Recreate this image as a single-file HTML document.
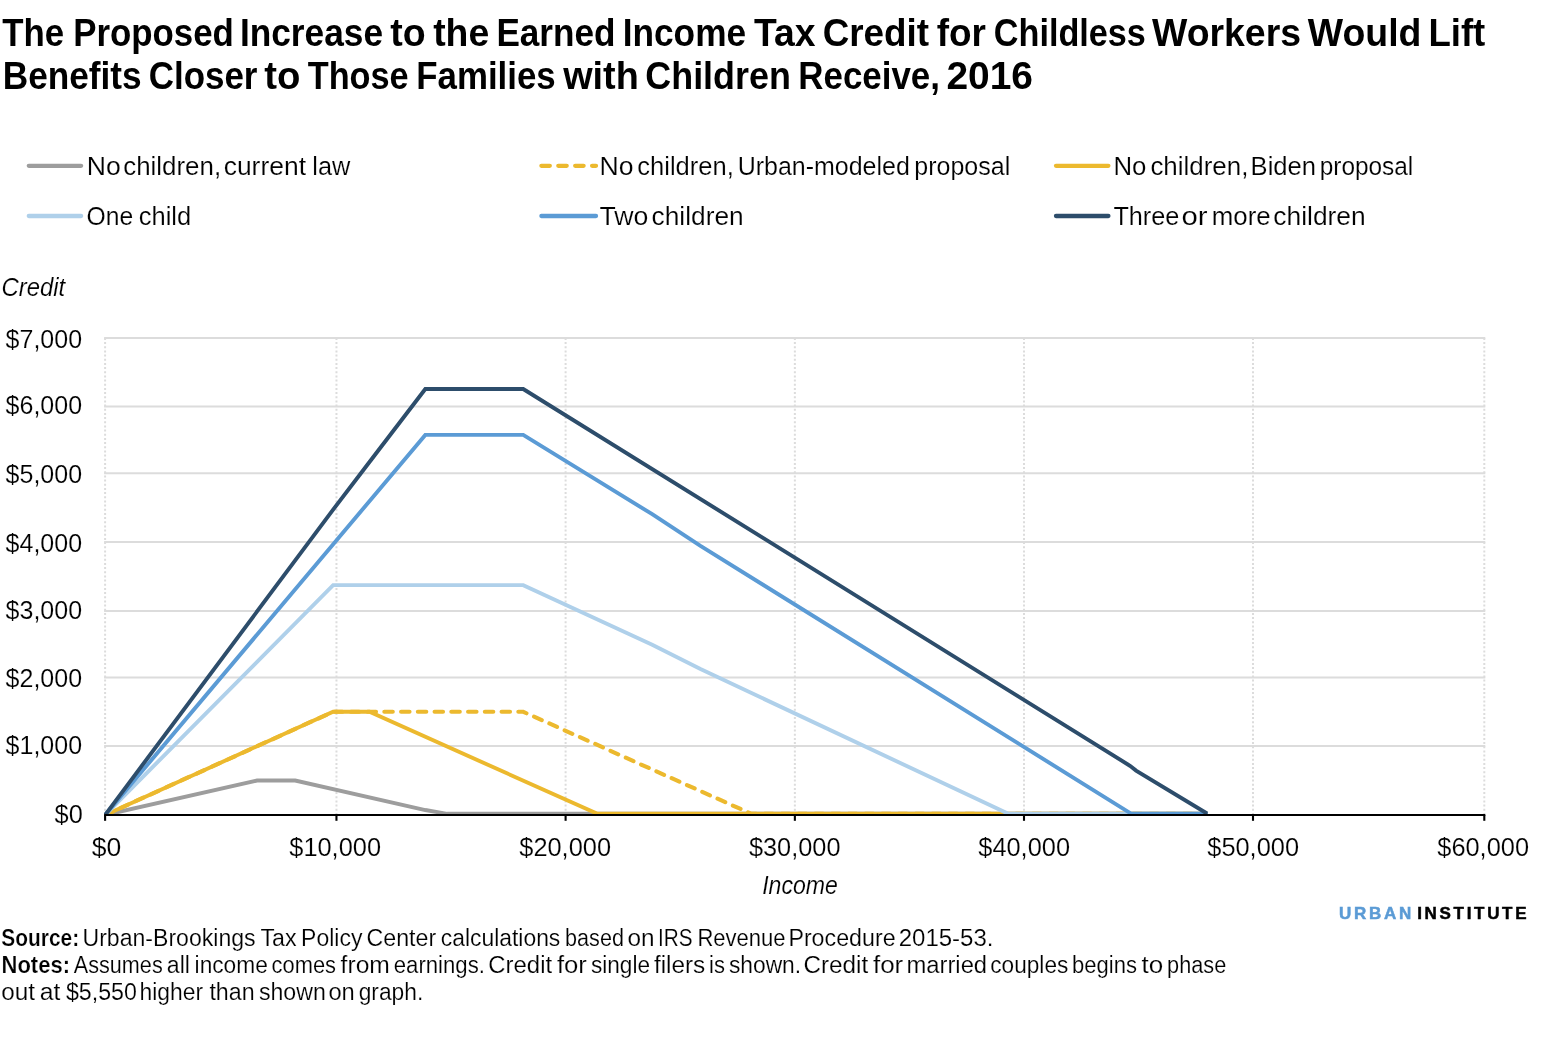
<!DOCTYPE html>
<html lang="en"><head><meta charset="utf-8">
<title>The Proposed Increase to the Earned Income Tax Credit for Childless Workers</title>
<style>
html,body{margin:0;padding:0;background:#fff;}
body{width:1541px;height:1041px;overflow:hidden;}
svg{display:block;position:absolute;left:0;top:0;}
text{font-family:"Liberation Sans", sans-serif;fill:#000;}
.t{stroke:#fff;stroke-width:0.16px;}
.tb{stroke:#fff;stroke-width:0.22px;}
.b{font-weight:bold;}
.i{font-style:italic;}
</style></head><body>
<svg width="1541" height="1041" viewBox="0 0 1541 1041">
<rect x="0" y="0" width="1541" height="1041" fill="#ffffff"/>
<text y="45.7" font-size="38.0" class="b"><tspan x="2.2" textLength="61.9" lengthAdjust="spacingAndGlyphs">The</tspan> <tspan x="73.2" textLength="160.7" lengthAdjust="spacingAndGlyphs">Proposed</tspan> <tspan x="239.9" textLength="143.1" lengthAdjust="spacingAndGlyphs">Increase</tspan> <tspan x="390.3" textLength="35.4" lengthAdjust="spacingAndGlyphs">to</tspan> <tspan x="433.2" textLength="56.0" lengthAdjust="spacingAndGlyphs">the</tspan> <tspan x="496.4" textLength="119.1" lengthAdjust="spacingAndGlyphs">Earned</tspan> <tspan x="622.7" textLength="123.4" lengthAdjust="spacingAndGlyphs">Income</tspan> <tspan x="753.9" textLength="61.5" lengthAdjust="spacingAndGlyphs">Tax</tspan> <tspan x="822.7" textLength="106.4" lengthAdjust="spacingAndGlyphs">Credit</tspan> <tspan x="936.7" textLength="49.2" lengthAdjust="spacingAndGlyphs">for</tspan> <tspan x="993.8" textLength="152.1" lengthAdjust="spacingAndGlyphs">Childless</tspan> <tspan x="1152.0" textLength="149.0" lengthAdjust="spacingAndGlyphs">Workers</tspan> <tspan x="1307.8" textLength="113.6" lengthAdjust="spacingAndGlyphs">Would</tspan> <tspan x="1428.4" textLength="56.9" lengthAdjust="spacingAndGlyphs">Lift</tspan></text>
<text y="88.6" font-size="38.0" class="b"><tspan x="2.7" textLength="139.0" lengthAdjust="spacingAndGlyphs">Benefits</tspan> <tspan x="148.7" textLength="108.8" lengthAdjust="spacingAndGlyphs">Closer</tspan> <tspan x="264.2" textLength="36.1" lengthAdjust="spacingAndGlyphs">to</tspan> <tspan x="307.7" textLength="101.0" lengthAdjust="spacingAndGlyphs">Those</tspan> <tspan x="416.3" textLength="139.4" lengthAdjust="spacingAndGlyphs">Families</tspan> <tspan x="563.2" textLength="75.6" lengthAdjust="spacingAndGlyphs">with</tspan> <tspan x="645.3" textLength="145.6" lengthAdjust="spacingAndGlyphs">Children</tspan> <tspan x="798.3" textLength="141.6" lengthAdjust="spacingAndGlyphs">Receive,</tspan> <tspan x="946.4" textLength="86.6" lengthAdjust="spacingAndGlyphs">2016</tspan></text>
<line x1="28.8" y1="165.8" x2="81.1" y2="165.8" stroke="#9d9d9d" stroke-width="4.3" stroke-linecap="round"/>
<line x1="28.8" y1="216.0" x2="81.1" y2="216.0" stroke="#afd0ea" stroke-width="4.3" stroke-linecap="round"/>
<line x1="541.4" y1="165.8" x2="596.0" y2="165.8" stroke="#ecb92e" stroke-width="4.3" stroke-linecap="round" stroke-dasharray="8.4 8.5"/>
<line x1="541.4" y1="216.0" x2="596.0" y2="216.0" stroke="#5b9bd5" stroke-width="4.3" stroke-linecap="round"/>
<line x1="1056.0" y1="165.8" x2="1108.4" y2="165.8" stroke="#ecb92e" stroke-width="4.3" stroke-linecap="round"/>
<line x1="1056.0" y1="216.0" x2="1108.4" y2="216.0" stroke="#2d4d6b" stroke-width="4.3" stroke-linecap="round"/>
<text y="174.8" font-size="25.5" class="t"><tspan x="86.7" textLength="34.0" lengthAdjust="spacingAndGlyphs">No</tspan> <tspan x="123.3" textLength="97.8" lengthAdjust="spacingAndGlyphs">children,</tspan> <tspan x="223.7" textLength="82.3" lengthAdjust="spacingAndGlyphs">current</tspan> <tspan x="312.3" textLength="38.0" lengthAdjust="spacingAndGlyphs">law</tspan></text>
<text y="224.6" font-size="25.5" class="t"><tspan x="86.6" textLength="46.6" lengthAdjust="spacingAndGlyphs">One</tspan> <tspan x="138.8" textLength="52.4" lengthAdjust="spacingAndGlyphs">child</tspan></text>
<text y="174.8" font-size="25.5" class="t"><tspan x="599.5" textLength="34.0" lengthAdjust="spacingAndGlyphs">No</tspan> <tspan x="637.3" textLength="96.5" lengthAdjust="spacingAndGlyphs">children,</tspan> <tspan x="737.7" textLength="172.1" lengthAdjust="spacingAndGlyphs">Urban-modeled</tspan> <tspan x="914.3" textLength="95.9" lengthAdjust="spacingAndGlyphs">proposal</tspan></text>
<text y="224.6" font-size="25.5" class="t"><tspan x="599.4" textLength="48.9" lengthAdjust="spacingAndGlyphs">Two</tspan> <tspan x="651.6" textLength="92.1" lengthAdjust="spacingAndGlyphs">children</tspan></text>
<text y="174.8" font-size="25.5" class="t"><tspan x="1113.4" textLength="33.0" lengthAdjust="spacingAndGlyphs">No</tspan> <tspan x="1150.4" textLength="98.0" lengthAdjust="spacingAndGlyphs">children,</tspan> <tspan x="1250.6" textLength="65.4" lengthAdjust="spacingAndGlyphs">Biden</tspan> <tspan x="1319.7" textLength="93.6" lengthAdjust="spacingAndGlyphs">proposal</tspan></text>
<text y="224.6" font-size="25.5" class="t"><tspan x="1113.4" textLength="66.0" lengthAdjust="spacingAndGlyphs">Three</tspan> <tspan x="1181.5" textLength="26.1" lengthAdjust="spacingAndGlyphs">or</tspan> <tspan x="1211.8" textLength="58.9" lengthAdjust="spacingAndGlyphs">more</tspan> <tspan x="1273.3" textLength="92.4" lengthAdjust="spacingAndGlyphs">children</tspan></text>
<text x="1.5" y="296.0" font-size="25.5" textLength="63.7" lengthAdjust="spacingAndGlyphs" class="i t">Credit</text>
<text x="762.2" y="893.6" font-size="25.5" textLength="75.7" lengthAdjust="spacingAndGlyphs" class="i t">Income</text>
<line x1="104.1" y1="746.10" x2="1485.3" y2="746.10" stroke="#dcdcdc" stroke-width="2"/>
<line x1="104.1" y1="677.40" x2="1485.3" y2="677.40" stroke="#dcdcdc" stroke-width="2"/>
<line x1="104.1" y1="610.90" x2="1485.3" y2="610.90" stroke="#dcdcdc" stroke-width="2"/>
<line x1="104.1" y1="542.00" x2="1485.3" y2="542.00" stroke="#dcdcdc" stroke-width="2"/>
<line x1="104.1" y1="473.20" x2="1485.3" y2="473.20" stroke="#dcdcdc" stroke-width="2"/>
<line x1="104.1" y1="406.60" x2="1485.3" y2="406.60" stroke="#dcdcdc" stroke-width="2"/>
<line x1="104.1" y1="338.00" x2="1485.3" y2="338.00" stroke="#dcdcdc" stroke-width="2"/>
<line x1="105.10" y1="337.90" x2="105.10" y2="815.05" stroke="#dcdcdc" stroke-width="2" stroke-dasharray="2 2.1665"/>
<line x1="336.45" y1="337.90" x2="336.45" y2="815.05" stroke="#dcdcdc" stroke-width="2" stroke-dasharray="2 2.1665"/>
<line x1="565.60" y1="337.90" x2="565.60" y2="815.05" stroke="#dcdcdc" stroke-width="2" stroke-dasharray="2 2.1665"/>
<line x1="794.86" y1="337.90" x2="794.86" y2="815.05" stroke="#dcdcdc" stroke-width="2" stroke-dasharray="2 2.1665"/>
<line x1="1024.00" y1="337.90" x2="1024.00" y2="815.05" stroke="#dcdcdc" stroke-width="2" stroke-dasharray="2 2.1665"/>
<line x1="1253.00" y1="337.90" x2="1253.00" y2="815.05" stroke="#dcdcdc" stroke-width="2" stroke-dasharray="2 2.1665"/>
<line x1="1484.30" y1="337.90" x2="1484.30" y2="815.05" stroke="#dcdcdc" stroke-width="2" stroke-dasharray="2 2.1665"/>
<defs><clipPath id="plot"><rect x="104.0" y="300" width="1103.7" height="514.05"/></clipPath></defs>
<g clip-path="url(#plot)">
<polyline points="105.10,815.00 257.04,780.52 295.20,780.52 425.31,810.03 447.15,813.80 1208.48,813.80" fill="none" stroke="#9d9d9d" stroke-width="3.9" stroke-linejoin="miter"/>
<polyline points="105.10,815.00 333.13,711.80 523.23,711.80 751.31,813.80 1208.48,813.80" fill="none" stroke="#ecb92e" stroke-width="4.1" stroke-linejoin="miter" stroke-dasharray="8.45 8.3" stroke-linecap="round"/>
<polyline points="105.10,815.00 333.13,711.80 369.45,711.80 597.48,813.80 1208.48,813.80" fill="none" stroke="#ecb92e" stroke-width="3.9" stroke-linejoin="miter"/>
<polyline points="105.10,815.00 333.13,585.15 523.23,585.15 652.19,644.70 700.46,669.11 1008.40,813.80 1208.48,813.80" fill="none" stroke="#afd0ea" stroke-width="3.9" stroke-linejoin="miter"/>
<polyline points="105.10,815.00 425.31,434.90 523.23,434.90 652.19,514.20 700.46,545.90 1131.42,813.80 1208.48,813.80" fill="none" stroke="#5b9bd5" stroke-width="3.9" stroke-linejoin="miter"/>
<polyline points="105.10,815.00 333.13,509.60 370.83,460.20 425.31,389.00 523.23,389.00 1130.32,765.98 1136.07,770.56 1207.44,813.80" fill="none" stroke="#2d4d6b" stroke-width="3.9" stroke-linejoin="miter"/>
</g>
<line x1="104.1" y1="815.05" x2="1485.3" y2="815.05" stroke="#000" stroke-width="2.05"/>
<line x1="105.10" y1="815.0" x2="105.10" y2="820.8" stroke="#000" stroke-width="2.1"/>
<line x1="336.45" y1="815.0" x2="336.45" y2="820.8" stroke="#000" stroke-width="2.1"/>
<line x1="565.60" y1="815.0" x2="565.60" y2="820.8" stroke="#000" stroke-width="2.1"/>
<line x1="794.86" y1="815.0" x2="794.86" y2="820.8" stroke="#000" stroke-width="2.1"/>
<line x1="1024.00" y1="815.0" x2="1024.00" y2="820.8" stroke="#000" stroke-width="2.1"/>
<line x1="1253.00" y1="815.0" x2="1253.00" y2="820.8" stroke="#000" stroke-width="2.1"/>
<line x1="1484.30" y1="815.0" x2="1484.30" y2="820.8" stroke="#000" stroke-width="2.1"/>
<text x="54.6" y="822.7" font-size="25.5" textLength="28.2" lengthAdjust="spacingAndGlyphs" class="t">$0</text>
<text x="5.6" y="753.7" font-size="25.5" textLength="76.5" lengthAdjust="spacingAndGlyphs" class="t">$1,000</text>
<text x="5.6" y="686.7" font-size="25.5" textLength="76.5" lengthAdjust="spacingAndGlyphs" class="t">$2,000</text>
<text x="5.6" y="618.7" font-size="25.5" textLength="76.5" lengthAdjust="spacingAndGlyphs" class="t">$3,000</text>
<text x="5.6" y="551.7" font-size="25.5" textLength="76.5" lengthAdjust="spacingAndGlyphs" class="t">$4,000</text>
<text x="5.6" y="482.7" font-size="25.5" textLength="76.5" lengthAdjust="spacingAndGlyphs" class="t">$5,000</text>
<text x="5.6" y="413.7" font-size="25.5" textLength="76.5" lengthAdjust="spacingAndGlyphs" class="t">$6,000</text>
<text x="5.6" y="347.7" font-size="25.5" textLength="76.5" lengthAdjust="spacingAndGlyphs" class="t">$7,000</text>
<text x="91.7" y="855.8" font-size="25.5" textLength="29.5" lengthAdjust="spacingAndGlyphs" class="t">$0</text>
<text x="289.3" y="855.8" font-size="25.5" textLength="91.7" lengthAdjust="spacingAndGlyphs" class="t">$10,000</text>
<text x="519.3" y="855.8" font-size="25.5" textLength="91.7" lengthAdjust="spacingAndGlyphs" class="t">$20,000</text>
<text x="748.9" y="855.8" font-size="25.5" textLength="91.6" lengthAdjust="spacingAndGlyphs" class="t">$30,000</text>
<text x="978.3" y="855.8" font-size="25.5" textLength="91.7" lengthAdjust="spacingAndGlyphs" class="t">$40,000</text>
<text x="1207.3" y="855.8" font-size="25.5" textLength="91.7" lengthAdjust="spacingAndGlyphs" class="t">$50,000</text>
<text x="1437.3" y="855.8" font-size="25.5" textLength="91.7" lengthAdjust="spacingAndGlyphs" class="t">$60,000</text>
<text x="1339.0" y="919.0" font-size="17.0" textLength="72.2" lengthAdjust="spacing" class="b" style="fill:#5b9bd5;stroke:#5b9bd5;stroke-width:0.5px">URBAN</text>
<text x="1417.2" y="919.0" font-size="17.0" textLength="109.3" lengthAdjust="spacing" class="b" style="fill:#000;stroke:#000;stroke-width:0.5px">INSTITUTE</text>
<text x="1.3" y="945.8" font-size="23.0" textLength="77.8" lengthAdjust="spacingAndGlyphs" class="b tb">Source:</text>
<text y="945.8" font-size="23.0" class="t"><tspan x="82.5" textLength="173.1" lengthAdjust="spacingAndGlyphs">Urban-Brookings</tspan> <tspan x="260.5" textLength="36.1" lengthAdjust="spacingAndGlyphs">Tax</tspan> <tspan x="301.1" textLength="61.3" lengthAdjust="spacingAndGlyphs">Policy</tspan> <tspan x="366.5" textLength="69.7" lengthAdjust="spacingAndGlyphs">Center</tspan> <tspan x="440.8" textLength="119.5" lengthAdjust="spacingAndGlyphs">calculations</tspan> <tspan x="565.1" textLength="58.8" lengthAdjust="spacingAndGlyphs">based</tspan> <tspan x="627.4" textLength="27.1" lengthAdjust="spacingAndGlyphs">on</tspan> <tspan x="658.0" textLength="34.6" lengthAdjust="spacingAndGlyphs">IRS</tspan> <tspan x="697.4" textLength="88.0" lengthAdjust="spacingAndGlyphs">Revenue</tspan> <tspan x="788.4" textLength="107.2" lengthAdjust="spacingAndGlyphs">Procedure</tspan> <tspan x="898.7" textLength="94.8" lengthAdjust="spacingAndGlyphs">2015-53.</tspan></text>
<text x="1.5" y="973.0" font-size="23.0" textLength="68.5" lengthAdjust="spacingAndGlyphs" class="b tb">Notes:</text>
<text y="973.0" font-size="23.0" class="t"><tspan x="73.8" textLength="88.9" lengthAdjust="spacingAndGlyphs">Assumes</tspan> <tspan x="166.8" textLength="23.1" lengthAdjust="spacingAndGlyphs">all</tspan> <tspan x="194.6" textLength="73.2" lengthAdjust="spacingAndGlyphs">income</tspan> <tspan x="271.6" textLength="64.4" lengthAdjust="spacingAndGlyphs">comes</tspan> <tspan x="340.6" textLength="49.3" lengthAdjust="spacingAndGlyphs">from</tspan> <tspan x="393.8" textLength="91.1" lengthAdjust="spacingAndGlyphs">earnings.</tspan> <tspan x="488.3" textLength="63.8" lengthAdjust="spacingAndGlyphs">Credit</tspan> <tspan x="556.9" textLength="30.0" lengthAdjust="spacingAndGlyphs">for</tspan> <tspan x="590.9" textLength="59.1" lengthAdjust="spacingAndGlyphs">single</tspan> <tspan x="653.9" textLength="51.4" lengthAdjust="spacingAndGlyphs">filers</tspan> <tspan x="709.1" textLength="15.9" lengthAdjust="spacingAndGlyphs">is</tspan> <tspan x="728.9" textLength="72.2" lengthAdjust="spacingAndGlyphs">shown.</tspan> <tspan x="803.4" textLength="64.9" lengthAdjust="spacingAndGlyphs">Credit</tspan> <tspan x="872.9" textLength="30.4" lengthAdjust="spacingAndGlyphs">for</tspan> <tspan x="906.5" textLength="80.6" lengthAdjust="spacingAndGlyphs">married</tspan> <tspan x="990.3" textLength="78.0" lengthAdjust="spacingAndGlyphs">couples</tspan> <tspan x="1072.1" textLength="64.9" lengthAdjust="spacingAndGlyphs">begins</tspan> <tspan x="1141.6" textLength="21.7" lengthAdjust="spacingAndGlyphs">to</tspan> <tspan x="1167.1" textLength="59.1" lengthAdjust="spacingAndGlyphs">phase</tspan></text>
<text y="1000.0" font-size="23.0" class="t"><tspan x="1.3" textLength="33.8" lengthAdjust="spacingAndGlyphs">out</tspan> <tspan x="39.8" textLength="20.6" lengthAdjust="spacingAndGlyphs">at</tspan> <tspan x="65.9" textLength="71.0" lengthAdjust="spacingAndGlyphs">$5,550</tspan> <tspan x="139.6" textLength="63.5" lengthAdjust="spacingAndGlyphs">higher</tspan> <tspan x="209.4" textLength="45.2" lengthAdjust="spacingAndGlyphs">than</tspan> <tspan x="258.9" textLength="66.9" lengthAdjust="spacingAndGlyphs">shown</tspan> <tspan x="328.4" textLength="26.4" lengthAdjust="spacingAndGlyphs">on</tspan> <tspan x="358.7" textLength="64.6" lengthAdjust="spacingAndGlyphs">graph.</tspan></text>
</svg>
</body></html>
